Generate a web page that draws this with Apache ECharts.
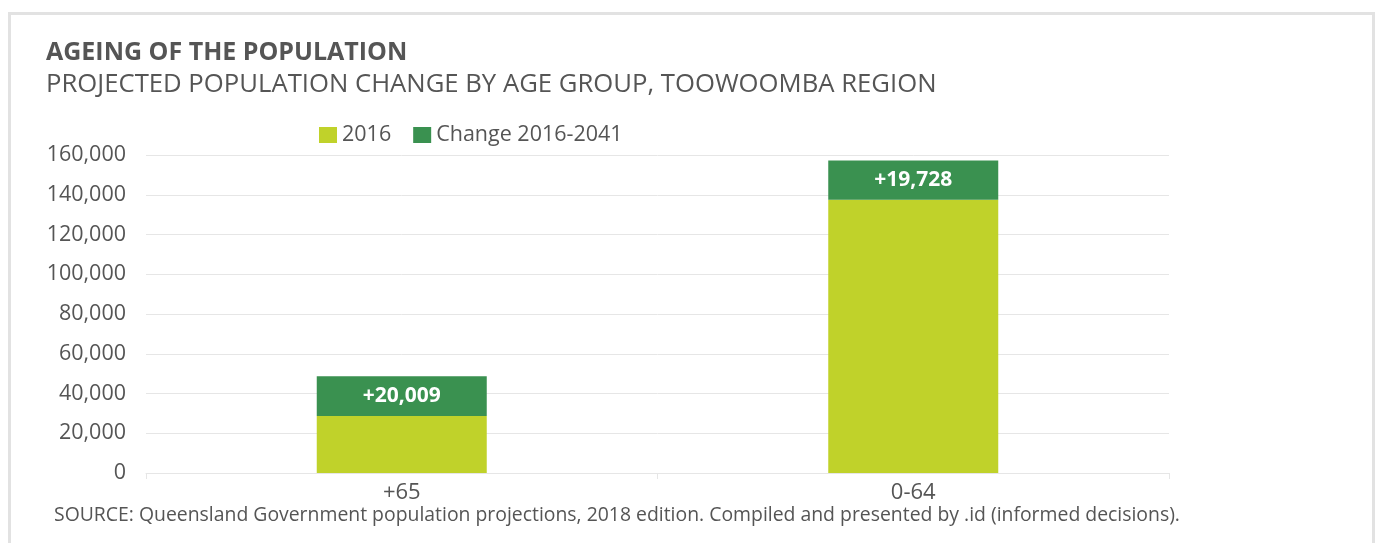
<!DOCTYPE html>
<html>
<head>
<meta charset="utf-8">
<script src="https://cdn.jsdelivr.net/npm/echarts@6/dist/echarts.min.js"></script>
<style>
  body { margin: 0; background: #fff; }
  #frame { position: absolute; left: 8px; top: 12px; width: 1361px; height: 540px; border: 3px solid #e2e2e2; border-bottom: none; }
  #main { position: absolute; left: 0; top: 0; width: 1376px; height: 543px; }
</style>
</head>
<body>
<div id="frame"></div>
<div id="main"></div>
<script>
// data
var ageGroups = ['+65', '0-64'];
var base2016 = [28680, 137450];
var change = [20009, 19728];
var yTicks = [0, 20000, 40000, 60000, 80000, 100000, 120000, 140000, 160000];

var myChart = echarts.init(document.getElementById('main'));
var font = '"Open Sans", Lato, sans-serif';

function fmt(v) {
    return v.toString().replace(/\B(?=(\d{3})+(?!\d))/g, ',');
}

var option = {
    animation: false,
    title: {
        text: 'AGEING OF THE POPULATION',
        subtext: 'PROJECTED POPULATION CHANGE BY AGE GROUP, TOOWOOMBA REGION',
        left: 41,
        top: 35,
        itemGap: 7,
        textStyle: { fontFamily: font, fontSize: 25, fontWeight: 'bold', color: '#555' },
        subtextStyle: { fontFamily: font, fontSize: 25.7, color: '#555' }
    },
    legend: {
        data: ['2016', 'Change 2016-2041'],
        left: 314,
        top: 119,
        itemWidth: 18,
        itemHeight: 16,
        itemGap: 22,
        icon: 'rect',
        textStyle: { fontFamily: font, fontSize: 21.5, color: '#555' }
    },
    grid: { left: 146, right: 207, top: 155, bottom: 70 },
    xAxis: {
        type: 'category',
        data: ageGroups,
        axisLine: { lineStyle: { color: '#e6e6e6', width: 1 } },
        axisTick: { show: true, length: 6, lineStyle: { color: '#e6e6e6' } },
        axisLabel: { fontFamily: font, fontSize: 22, color: '#555', margin: 9 }
    },
    yAxis: {
        type: 'value',
        min: yTicks[0],
        max: yTicks[yTicks.length - 1],
        interval: 20000,
        axisLine: { show: false },
        axisTick: { show: false },
        splitLine: { lineStyle: { color: '#e6e6e6', width: 1 } },
        axisLabel: { fontFamily: font, fontSize: 21.5, color: '#555', margin: 20, formatter: fmt }
    },
    series: [
        {
            name: '2016',
            type: 'bar',
            stack: 'pop',
            barWidth: 170,
            itemStyle: { color: '#c0d22a' },
            data: base2016
        },
        {
            name: 'Change 2016-2041',
            type: 'bar',
            stack: 'pop',
            barWidth: 170,
            itemStyle: { color: '#3a9150' },
            label: {
                show: true,
                position: 'inside',
                color: '#fff',
                fontFamily: font,
                fontSize: 21,
                fontWeight: 'bold',
                formatter: function (p) { return '+' + fmt(p.value); }
            },
            data: change
        }
    ],
    graphic: [
        {
            type: 'text',
            left: 54,
            top: 506,
            style: {
                text: 'SOURCE: Queensland Government population projections, 2018 edition. Compiled and presented by .id (informed decisions).',
                fontFamily: font,
                fontSize: 19.4,
                fill: '#555'
            }
        }
    ]
};

myChart.setOption(option);
</script>
</body>
</html>
